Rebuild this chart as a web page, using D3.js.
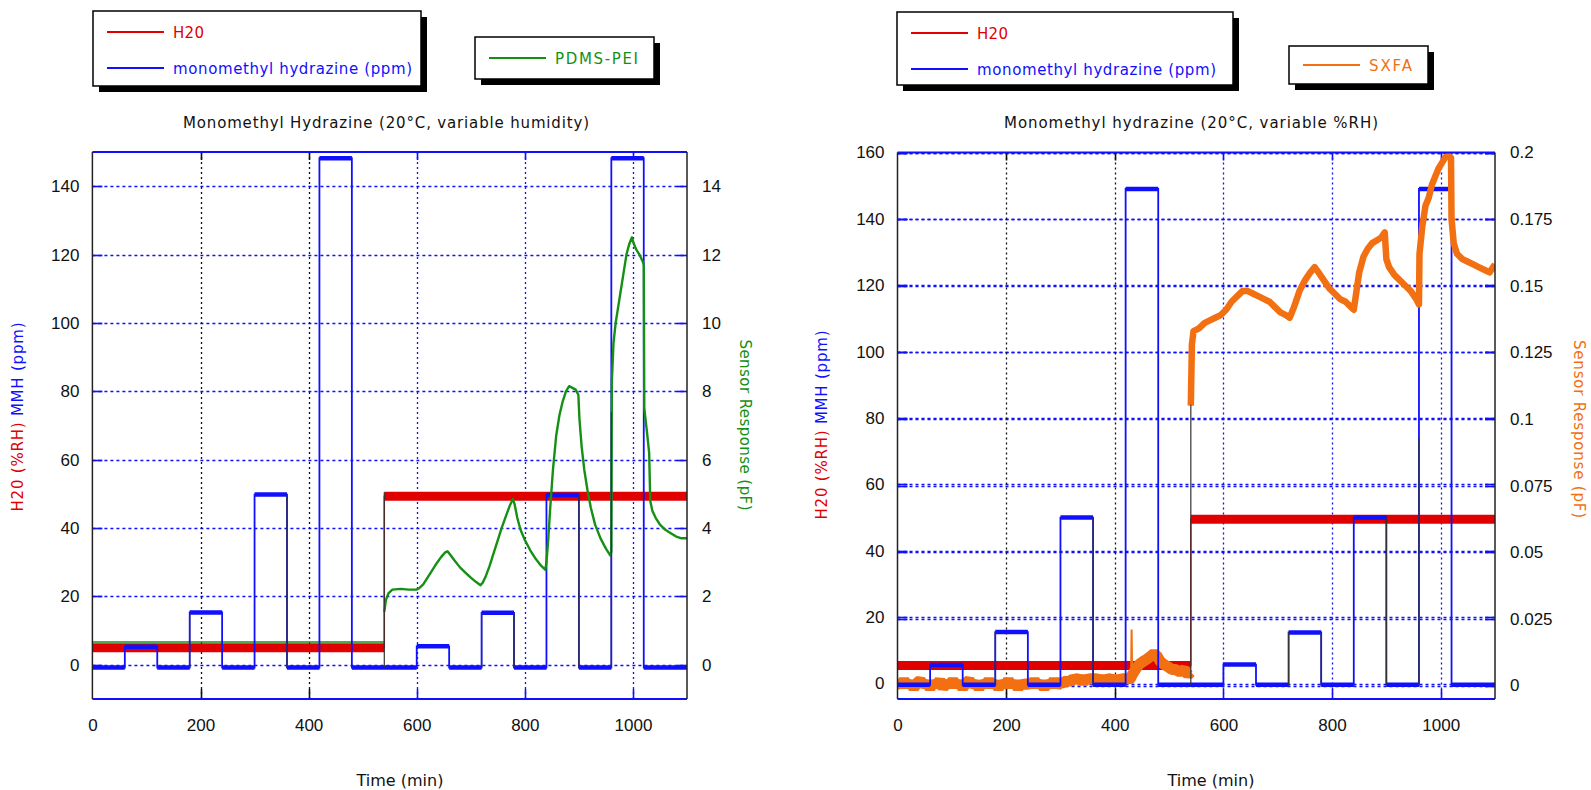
<!DOCTYPE html>
<html>
<head>
<meta charset="UTF-8">
<title>Monomethyl hydrazine sensor response</title>
<script src="https://d3js.org/d3.v7.min.js"></script>
<style>
  body { margin: 0; background: #fff; }
  svg { display: block; font-family: "Liberation Sans", Arial, sans-serif; }
  .tick text { font-size: 17px; fill: #111; }
  .lbl { font-family: "DejaVu Sans", sans-serif; font-size: 15px; }
</style>
</head>
<body>
<script>
// ---- shared axis values ----
const timeTicks = [0, 200, 400, 600, 800, 1000];
const leftPanelMmhTicks = [0, 20, 40, 60, 80, 100, 120, 140];
const leftPanelSensorTicks = [0, 2, 4, 6, 8, 10, 12, 14];
const rightPanelMmhTicks = [0, 20, 40, 60, 80, 100, 120, 140, 160];
const rightPanelSensorTicks = [0, 0.025, 0.05, 0.075, 0.1, 0.125, 0.15, 0.175, 0.2];
const rightPanelSensorLabels = ['0', '0.025', '0.05', '0.075', '0.1', '0.125', '0.15', '0.175', '0.2'];

// ---- left panel: PDMS-PEI ----
// [time (min), ppm]
const mmhLeft = [[0,-0.8],[60,-0.8],[60,5.3],[120,5.3],[120,-0.8],[180,-0.8],[180,15.3],[240,15.3],[240,-0.8],
  [300,-0.8],[300,49.8],[360,49.8],[360,-0.8],[420,-0.8],[420,148.2],[480,148.2],[480,-0.8],[600,-0.8],
  [600,5.4],[660,5.4],[660,-0.8],[720,-0.8],[720,15.2],[780,15.2],[780,-0.8],[840,-0.8],[840,49.7],
  [900,49.7],[900,-0.8],[960,-0.8],[960,148.2],[1020,148.2],[1020,-0.8],[1100,-0.8]];
// [time, %RH]
const h2oLeft = [[0,5],[540,5],[540,49.3],[1100,49.3]];
// [time, pF]
const pdmsPeiBefore = [[0,0.67],[540,0.67]];
const pdmsPei = [[540,1.55],[543,1.9],[548,2.1],[555,2.2],[570,2.22],[585,2.2],[600,2.2],[605,2.25],[612,2.35],
  [620,2.55],[628,2.75],[636,2.95],[645,3.15],[652,3.28],[657,3.32],[662,3.22],[670,3.05],[680,2.85],[690,2.7],
  [700,2.55],[710,2.42],[718,2.33],[722,2.4],[728,2.6],[735,2.9],[742,3.25],[750,3.65],[757,4.0],[765,4.35],
  [772,4.65],[778,4.85],[781,4.7],[786,4.3],[792,3.95],[800,3.65],[810,3.35],[820,3.1],[830,2.9],[838,2.78],
  [840,3.0],[843,3.6],[847,4.6],[852,5.7],[858,6.7],[864,7.3],[870,7.7],[876,8.0],[882,8.15],[888,8.1],
  [894,8.05],[899,7.9],[901,7.2],[905,6.4],[910,5.7],[916,5.1],[922,4.6],[930,4.1],[940,3.7],[950,3.4],
  [958,3.2],[960,3.3],[961,8.3],[964,9.4],[968,10.0],[973,10.5],[978,11.0],[983,11.5],[988,12.0],[993,12.3],
  [998,12.5],[1002,12.3],[1006,12.15],[1012,12.0],[1018,11.8],[1020,11.7],[1021,7.5],[1026,6.8],[1030,6.2],
  [1032,4.8],[1036,4.5],[1042,4.3],[1050,4.1],[1060,3.95],[1070,3.85],[1080,3.75],[1090,3.7],[1100,3.7]];
// raw trace visible in grey: [time, from ppm, to ppm]
const greyTraceLeft = [[180,-0.8,15.3],[360,-0.8,49.8],[540,-0.8,50.5],[720,-0.8,15.2],[780,-0.8,15.2],
  [900,-0.8,49.7],[960,-0.8,74]];

// ---- right panel: SXFA ----
const mmhRight = [[0,-0.4],[60,-0.4],[60,5.6],[120,5.6],[120,-0.4],[180,-0.4],[180,15.5],[240,15.5],[240,-0.4],
  [300,-0.4],[300,50],[360,50],[360,-0.4],[420,-0.4],[420,149],[480,149],[480,-0.4],[600,-0.4],
  [600,5.7],[660,5.7],[660,-0.4],[720,-0.4],[720,15.4],[780,15.4],[780,-0.4],[840,-0.4],[840,50],
  [900,50],[900,-0.4],[960,-0.4],[960,149],[1020,149],[1020,-0.4],[1100,-0.4]];
const h2oRight = [[0,5.4],[540,5.4],[540,49.5],[1100,49.5]];
const sxfaBefore = [[0,0.001],[6,0.0],[12,0.002],[18,0.0],[24,0.001],[30,-0.001],[36,0.001],[42,0.002],
  [48,0.0],[54,0.001],[60,-0.001],[66,0.001],[72,0.0],[78,0.002],[84,-0.001],[90,0.001],[96,0.0],[102,0.002],
  [108,0.0],[114,0.001],[120,-0.001],[126,0.001],[132,0.002],[138,0.0],[144,0.001],[150,-0.001],[156,0.001],
  [162,0.0],[168,0.002],[174,0.0],[180,0.001],[186,-0.001],[192,0.001],[198,0.0],[204,0.002],[210,0.0],
  [216,0.001],[222,-0.001],[228,0.001],[234,0.0],[240,0.001],[246,0.0],[252,0.002],[258,0.0],[264,0.001],
  [270,-0.001],[276,0.001],[282,0.0],[288,0.002],[294,0.0],[300,0.001],[306,0.001],[312,0.002],[318,0.001],
  [324,0.003],[330,0.002],[336,0.003],[342,0.001],[348,0.003],[354,0.002],[360,0.003],[366,0.002],[372,0.003],
  [378,0.001],[384,0.003],[390,0.002],[396,0.003],[402,0.001],[408,0.003],[414,0.002],[420,0.003],[426,0.002],
  [430,0.003],[432,0.004],[438,0.006],[445,0.008],[452,0.009],[460,0.010],[466,0.011],[472,0.012],[478,0.011],
  [484,0.009],[490,0.008],[498,0.007],[505,0.006],[512,0.006],[520,0.005],[528,0.006],[535,0.004],[540,0.005]];
const sxfaSpike = [[430,0.004],[431,0.021],[432,0.005]];
const sxfa = [[540,0.105],[542,0.128],[545,0.133],[555,0.134],[565,0.136],[575,0.137],[585,0.138],[595,0.139],
  [605,0.141],[615,0.144],[625,0.146],[635,0.148],[645,0.148],[655,0.147],[665,0.146],[675,0.145],[685,0.144],
  [695,0.142],[705,0.140],[715,0.139],[722,0.138],[730,0.142],[740,0.148],[750,0.152],[760,0.155],[768,0.157],
  [775,0.155],[785,0.152],[795,0.149],[805,0.147],[815,0.145],[825,0.144],[835,0.142],[840,0.141],[845,0.148],
  [850,0.155],[858,0.161],[866,0.164],[874,0.166],[882,0.167],[890,0.168],[897,0.170],[900,0.160],[905,0.157],
  [915,0.154],[925,0.152],[935,0.150],[945,0.148],[955,0.145],[960,0.143],[961,0.162],[966,0.172],[972,0.180],
  [978,0.183],[984,0.188],[990,0.191],[996,0.194],[1002,0.196],[1008,0.198],[1014,0.199],[1019,0.198],
  [1020,0.175],[1024,0.166],[1030,0.162],[1040,0.160],[1050,0.159],[1060,0.158],[1070,0.157],[1080,0.156],
  [1090,0.155],[1100,0.158]];
const greyTraceRight = [[180,-0.4,15.5],[360,-0.4,50],[540,-0.4,84],[720,-0.4,15.4],[780,-0.4,15.4],
  [900,-0.4,50],[960,-0.4,74]];

const RED = '#e00000', BLUE = '#1010ff', GREEN = '#159015', ORANGE = '#f27012';

const svg = d3.select('body').append('svg')
  .attr('width', 1591)
  .attr('height', 790);

function drawPanel(p) {
  const g = svg.append('g');
  const x = d3.scaleLinear().domain([0, 1100]).range([p.left, p.right]);
  const yL = d3.scaleLinear().domain(p.leftDomain).range(p.leftRange);
  const yR = d3.scaleLinear().domain(p.rightDomain).range(p.rightRange);

  // grid lines
  function hGrid(vals, scale) {
    vals.forEach(v => {
      const yy = Math.round(scale(v)) + 0.5;
      g.append('line').attr('x1', p.left).attr('x2', p.right).attr('y1', yy).attr('y2', yy)
        .attr('stroke', BLUE).attr('stroke-width', 1.3).attr('stroke-dasharray', '3,3');
      g.append('line').attr('x1', p.left).attr('x2', p.left + 10).attr('y1', yy).attr('y2', yy)
        .attr('stroke', BLUE).attr('stroke-width', 1.6);
      g.append('line').attr('x1', p.right - 10).attr('x2', p.right).attr('y1', yy).attr('y2', yy)
        .attr('stroke', BLUE).attr('stroke-width', 1.6);
    });
  }
  hGrid(p.leftTicks, yL);
  if (p.rightGrid) hGrid(p.rightTicks, yR);

  timeTicks.slice(1).forEach(t => {
    const xx = Math.round(x(t)) + 0.5;
    const c = t < 500 ? '#111' : BLUE;
    g.append('line').attr('x1', xx).attr('x2', xx).attr('y1', p.top).attr('y2', p.bottom)
      .attr('stroke', c).attr('stroke-width', 1.3).attr('stroke-dasharray', '2,3');
    g.append('line').attr('x1', xx).attr('x2', xx).attr('y1', p.bottom - 10).attr('y2', p.bottom)
      .attr('stroke', c).attr('stroke-width', 1.6);
    g.append('line').attr('x1', xx).attr('x2', xx).attr('y1', p.top).attr('y2', p.top + 8)
      .attr('stroke', c).attr('stroke-width', 1.6);
  });

  // clip
  const clipId = 'clip' + p.id;
  svg.append('clipPath').attr('id', clipId).append('rect')
    .attr('x', p.left).attr('y', p.top).attr('width', p.right - p.left).attr('height', p.bottom - p.top);
  const plot = g.append('g').attr('clip-path', `url(#${clipId})`);

  const lineL = d3.line().x(d => x(d[0])).y(d => yL(d[1]));
  const lineR = d3.line().x(d => x(d[0])).y(d => yR(d[1]));

  function steps(data, color, thin, thick) {
    plot.append('path').datum(data).attr('d', lineL).attr('fill', 'none')
      .attr('stroke', color).attr('stroke-width', thin);
    for (let i = 0; i < data.length - 1; i++) {
      if (data[i][1] === data[i + 1][1]) {
        plot.append('line')
          .attr('x1', x(data[i][0])).attr('x2', x(data[i + 1][0]))
          .attr('y1', yL(data[i][1])).attr('y2', yL(data[i][1]))
          .attr('stroke', color).attr('stroke-width', thick);
      }
    }
  }

  // H2O band
  steps(p.h2o, RED, 1.5, 9);
  // sensor before exposure
  plot.append('path').datum(p.sensorBefore).attr('d', lineR).attr('fill', 'none')
    .attr('stroke', p.sensorColor).attr('stroke-width', p.beforeWidth).attr('stroke-linejoin', 'bevel');
  if (p.spike) {
    plot.append('path').datum(p.spike).attr('d', lineR).attr('fill', 'none')
      .attr('stroke', p.sensorColor).attr('stroke-width', 2);
  }
  // MMH
  steps(p.mmh, BLUE, 1.8, 4.5);
  plot.append('path').datum(p.sensor).attr('d', lineR).attr('fill', 'none')
    .attr('stroke', p.sensorColor).attr('stroke-width', p.sensorWidth).attr('stroke-linejoin', 'round');
  // grey raw trace
  p.grey.forEach(d => {
    plot.append('line').attr('x1', x(d[0])).attr('x2', x(d[0]))
      .attr('y1', yL(d[1])).attr('y2', yL(d[2]))
      .attr('stroke', '#333').attr('stroke-width', 1.2);
  });

  // frame
  g.append('line').attr('x1', p.left).attr('x2', p.right).attr('y1', p.top).attr('y2', p.top)
    .attr('stroke', BLUE).attr('stroke-width', 1.8);
  g.append('line').attr('x1', p.left).attr('x2', p.right).attr('y1', p.bottom).attr('y2', p.bottom)
    .attr('stroke', BLUE).attr('stroke-width', 1.8);
  g.append('line').attr('x1', p.left).attr('x2', p.left).attr('y1', p.top).attr('y2', p.bottom)
    .attr('stroke', '#222').attr('stroke-width', 1.5);
  g.append('line').attr('x1', p.right).attr('x2', p.right).attr('y1', p.top).attr('y2', p.bottom)
    .attr('stroke', '#222').attr('stroke-width', 1.5);

  // axes
  const ax = g.append('g').attr('transform', `translate(0,${p.bottom})`)
    .call(d3.axisBottom(x).tickValues(timeTicks).tickSize(0).tickPadding(20).tickFormat(d3.format('d')));
  const ayl = g.append('g').attr('transform', `translate(${p.left},0)`)
    .call(d3.axisLeft(yL).tickValues(p.leftTicks).tickSize(0).tickPadding(13).tickFormat(d3.format('d')));
  const ayr = g.append('g').attr('transform', `translate(${p.right},0)`)
    .call(d3.axisRight(yR).tickValues(p.rightTicks).tickSize(0).tickPadding(15)
      .tickFormat((d, i) => p.rightLabels[i]));
  [ax, ayl, ayr].forEach(a => a.select('.domain').remove());

  // title and axis titles
  g.append('text').attr('class', 'lbl').attr('x', p.titleX).attr('y', 128)
    .attr('text-anchor', 'middle').attr('textLength', p.titleLen).attr('lengthAdjust', 'spacing')
    .attr('fill', '#111').text(p.title);
  g.append('text').attr('class', 'lbl').attr('x', p.timeX).attr('y', 786)
    .attr('text-anchor', 'middle').attr('fill', '#111').style('font-size', '16px').text('Time (min)');

  const yl = g.append('text').attr('class', 'lbl')
    .attr('transform', `translate(${p.yLabelX},${p.yLabelY}) rotate(-90)`)
    .attr('text-anchor', 'middle').attr('textLength', 189).attr('lengthAdjust', 'spacing');
  yl.append('tspan').attr('fill', RED).text('H20 (%RH)  ');
  yl.append('tspan').attr('fill', BLUE).text('MMH (ppm)');

  g.append('text').attr('class', 'lbl')
    .attr('transform', `translate(${p.sLabelX},${p.sLabelY}) rotate(90)`)
    .attr('text-anchor', 'middle').attr('textLength', p.sLabelLen).attr('lengthAdjust', 'spacing')
    .attr('fill', p.sensorColor).text('Sensor Response (pF)');

  // legends
  function box(x0, y0, x1, y1) {
    svg.append('rect').attr('x', x0 + 6).attr('y', y0 + 6).attr('width', x1 - x0).attr('height', y1 - y0)
      .attr('fill', '#000');
    svg.append('rect').attr('x', x0).attr('y', y0).attr('width', x1 - x0).attr('height', y1 - y0)
      .attr('fill', '#fff').attr('stroke', '#000').attr('stroke-width', 1.5);
  }
  function entry(lx, ly, color, label, tlen) {
    svg.append('line').attr('x1', lx).attr('x2', lx + 57).attr('y1', ly).attr('y2', ly)
      .attr('stroke', color).attr('stroke-width', 1.8);
    svg.append('text').attr('class', 'lbl').attr('x', lx + 66).attr('y', ly + 5.5)
      .attr('fill', color).attr('textLength', tlen).attr('lengthAdjust', 'spacing').text(label);
  }
  const L = p.legend;
  box(L.b1[0], L.b1[1], L.b1[2], L.b1[3]);
  entry(L.b1[0] + 14, L.b1[1] + 21, RED, 'H20', 31);
  entry(L.b1[0] + 14, L.b1[1] + 57, BLUE, 'monomethyl hydrazine (ppm)', 239);
  box(L.b2[0], L.b2[1], L.b2[2], L.b2[3]);
  entry(L.b2[0] + 14, (L.b2[1] + L.b2[3]) / 2, p.sensorColor, p.sensorName, p.sensorNameLen);
}

drawPanel({
  id: 'L', left: 92.4, right: 687, top: 152, bottom: 699,
  leftDomain: [-10, 150], leftRange: [699, 152],
  rightDomain: [-1, 15], rightRange: [699, 152],
  leftTicks: leftPanelMmhTicks, rightTicks: leftPanelSensorTicks,
  rightLabels: leftPanelSensorTicks.map(String), rightGrid: false,
  mmh: mmhLeft, h2o: h2oLeft, sensorBefore: pdmsPeiBefore, sensor: pdmsPei, grey: greyTraceLeft,
  sensorColor: GREEN, sensorWidth: 2.4, beforeWidth: 1.5,
  sensorName: 'PDMS-PEI', sensorNameLen: 83,
  title: 'Monomethyl Hydrazine (20\u00B0C, variable humidity)', titleX: 386, titleLen: 406,
  timeX: 400, yLabelX: 23, yLabelY: 417, sLabelX: 740, sLabelY: 425, sLabelLen: 171,
  legend: { b1: [93, 11, 421, 86], b2: [475, 37, 654, 79] }
});

drawPanel({
  id: 'R', left: 897.5, right: 1495, top: 152.5, bottom: 699,
  leftDomain: [0, 160], leftRange: [683.5, 152.5],
  rightDomain: [0, 0.2], rightRange: [685.5, 152.5],
  leftTicks: rightPanelMmhTicks, rightTicks: rightPanelSensorTicks,
  rightLabels: rightPanelSensorLabels, rightGrid: true,
  mmh: mmhRight, h2o: h2oRight, sensorBefore: sxfaBefore, spike: sxfaSpike, sensor: sxfa, grey: greyTraceRight,
  sensorColor: ORANGE, sensorWidth: 6.5, beforeWidth: 11,
  sensorName: 'SXFA', sensorNameLen: 43,
  title: 'Monomethyl hydrazine (20\u00B0C, variable %RH)', titleX: 1191, titleLen: 374,
  timeX: 1211, yLabelX: 827, yLabelY: 425, sLabelX: 1574, sLabelY: 429, sLabelLen: 178,
  legend: { b1: [897, 12, 1233, 85], b2: [1289, 46, 1428, 84] }
});
</script>
</body>
</html>
